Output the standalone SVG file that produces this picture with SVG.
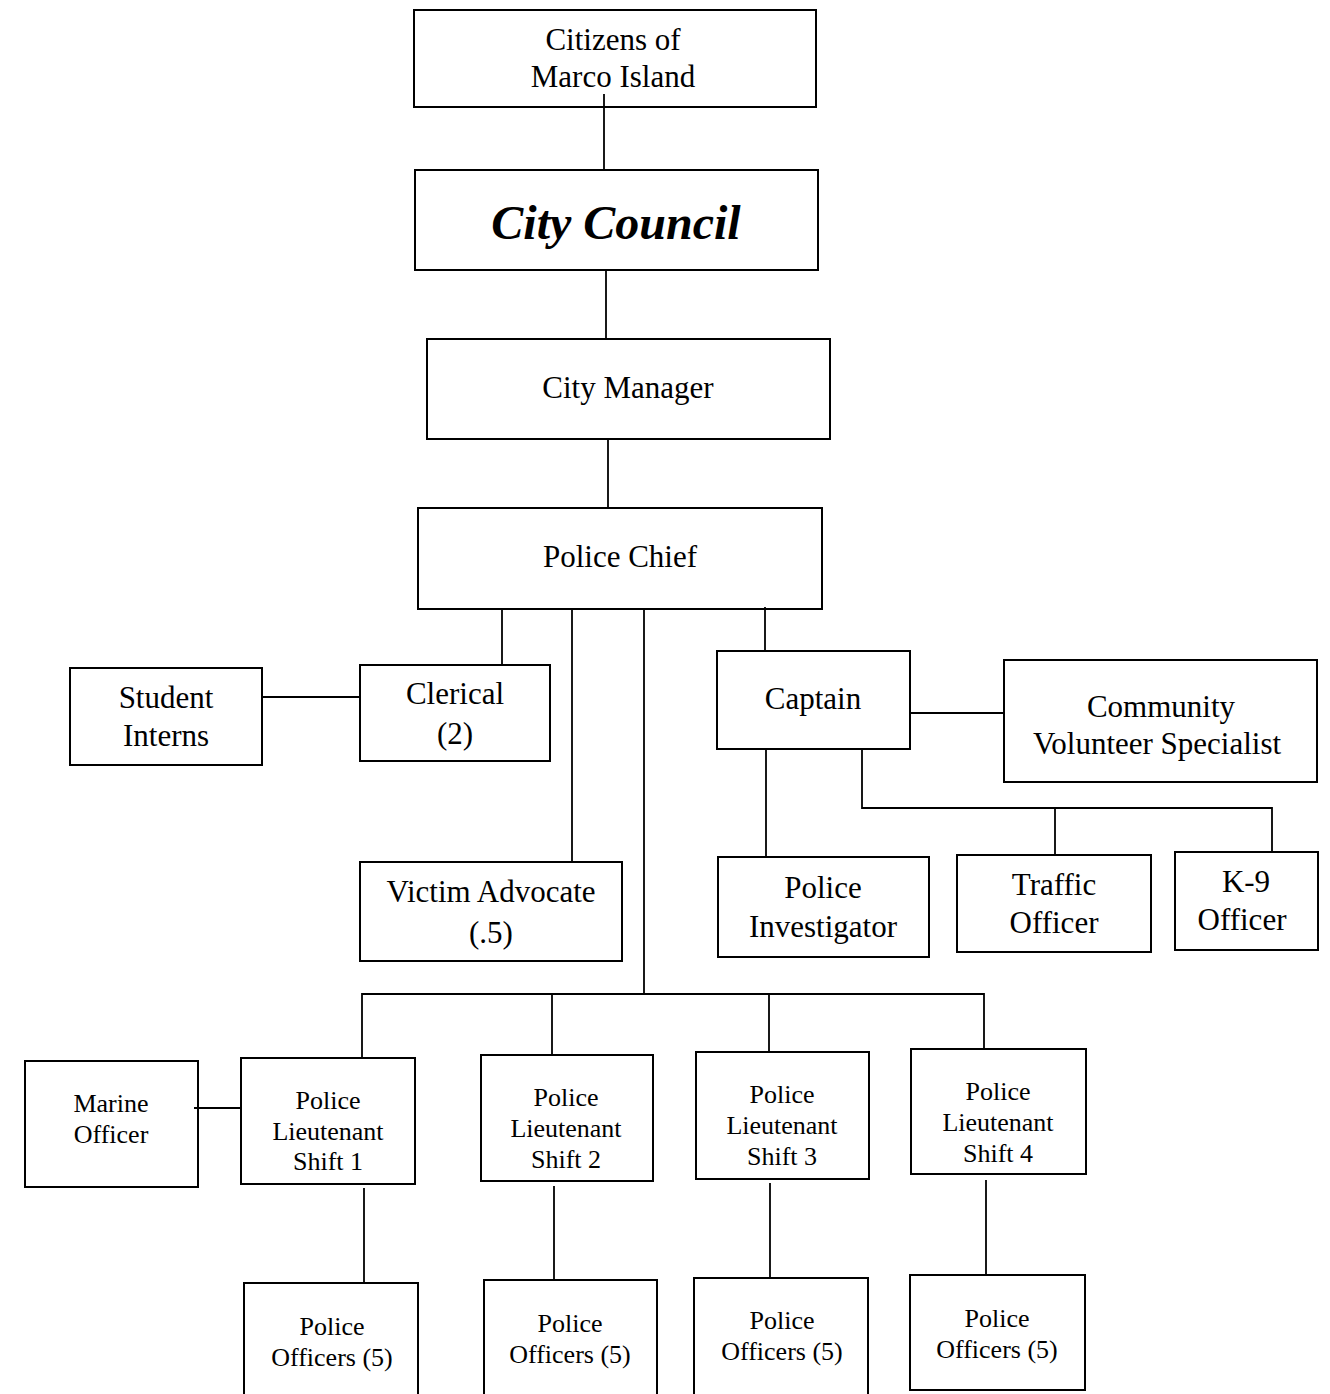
<svg xmlns="http://www.w3.org/2000/svg" width="1330" height="1394" viewBox="0 0 1330 1394">
<style>
.box{fill:#fff;stroke:#000;stroke-width:2}
.t{font-family:"Liberation Serif","Times New Roman",serif;font-size:31px;text-anchor:middle;fill:#000}
.s{font-family:"Liberation Serif","Times New Roman",serif;font-size:26px;text-anchor:middle;fill:#000}
.cc{font-family:"Liberation Serif","Times New Roman",serif;font-size:48px;font-weight:bold;font-style:italic;text-anchor:middle;fill:#000}
.c{fill:none;stroke:#000;stroke-width:1.8}
</style>
<rect width="1330" height="1394" fill="#fff"/>
<g id="citizens"><rect class="box" x="414" y="10" width="402" height="97"/><text class="t" x="613" y="50">Citizens of</text><text class="t" x="613" y="87">Marco Island</text></g>
<g id="council"><rect class="box" x="415" y="170" width="403" height="100"/><text class="cc" x="616" y="239">City Council</text></g>
<g id="manager"><rect class="box" x="427" y="339" width="403" height="100"/><text class="t" x="628" y="398">City Manager</text></g>
<g id="chief"><rect class="box" x="418" y="508" width="404" height="101"/><text class="t" x="620" y="567">Police Chief</text></g>
<g id="interns"><rect class="box" x="70" y="668" width="192" height="97"/><text class="t" x="166" y="708">Student</text><text class="t" x="166" y="746">Interns</text></g>
<g id="clerical"><rect class="box" x="360" y="665" width="190" height="96"/><text class="t" x="455" y="704">Clerical</text><text class="t" x="455" y="744">(2)</text></g>
<g id="victim"><rect class="box" x="360" y="862" width="262" height="99"/><text class="t" x="491" y="902">Victim Advocate</text><text class="t" x="491" y="943">(.5)</text></g>
<g id="captain"><rect class="box" x="717" y="651" width="193" height="98"/><text class="t" x="813" y="709">Captain</text></g>
<g id="cvs"><rect class="box" x="1004" y="660" width="313" height="122"/><text class="t" x="1161" y="717">Community</text><text class="t" x="1157" y="754">Volunteer Specialist</text></g>
<g id="investigator"><rect class="box" x="718" y="857" width="211" height="100"/><text class="t" x="823" y="898">Police</text><text class="t" x="823" y="937">Investigator</text></g>
<g id="traffic"><rect class="box" x="957" y="855" width="194" height="97"/><text class="t" x="1054" y="895">Traffic</text><text class="t" x="1054" y="933">Officer</text></g>
<g id="k9"><rect class="box" x="1175" y="852" width="143" height="98"/><text class="t" x="1246" y="892">K-9</text><text class="t" x="1242" y="930">Officer</text></g>
<g id="marine"><rect class="box" x="25" y="1061" width="173" height="126"/><text class="s" x="111" y="1112">Marine</text><text class="s" x="111" y="1143">Officer</text></g>
<g id="lt1"><rect class="box" x="241" y="1058" width="174" height="126"/><text class="s" x="328" y="1109">Police</text><text class="s" x="328" y="1140">Lieutenant</text><text class="s" x="328" y="1170">Shift 1</text></g>
<g id="lt2"><rect class="box" x="481" y="1055" width="172" height="126"/><text class="s" x="566" y="1106">Police</text><text class="s" x="566" y="1137">Lieutenant</text><text class="s" x="566" y="1168">Shift 2</text></g>
<g id="lt3"><rect class="box" x="696" y="1052" width="173" height="127"/><text class="s" x="782" y="1103">Police</text><text class="s" x="782" y="1134">Lieutenant</text><text class="s" x="782" y="1165">Shift 3</text></g>
<g id="lt4"><rect class="box" x="911" y="1049" width="175" height="125"/><text class="s" x="998" y="1100">Police</text><text class="s" x="998" y="1131">Lieutenant</text><text class="s" x="998" y="1162">Shift 4</text></g>
<g id="po1"><rect class="box" x="244" y="1283" width="174" height="120"/><text class="s" x="332" y="1335">Police</text><text class="s" x="332" y="1366">Officers (5)</text></g>
<g id="po2"><rect class="box" x="484" y="1280" width="173" height="122"/><text class="s" x="570" y="1332">Police</text><text class="s" x="570" y="1363">Officers (5)</text></g>
<g id="po3"><rect class="box" x="694" y="1278" width="174" height="122"/><text class="s" x="782" y="1329">Police</text><text class="s" x="782" y="1360">Officers (5)</text></g>
<g id="po4"><rect class="box" x="910" y="1275" width="175" height="115"/><text class="s" x="997" y="1327">Police</text><text class="s" x="997" y="1358">Officers (5)</text></g>
<g id="connectors">
<path class="c" d="M604 94V170"/>
<path class="c" d="M606 270V339"/>
<path class="c" d="M608 439V508"/>
<path class="c" d="M502 609V665"/>
<path class="c" d="M572 609V862"/>
<path class="c" d="M644 609V993"/>
<path class="c" d="M765 607V651"/>
<path class="c" d="M262 697H360"/>
<path class="c" d="M910 713H1004"/>
<path class="c" d="M766 749V857"/>
<path class="c" d="M862 749V808H1272V852"/>
<path class="c" d="M1055 808V855"/>
<path class="c" d="M362 1058V994H984V1049"/>
<path class="c" d="M552 994V1055"/>
<path class="c" d="M769 994V1052"/>
<path class="c" d="M194 1108H241"/>
<path class="c" d="M364 1188V1283"/>
<path class="c" d="M554 1186V1280"/>
<path class="c" d="M770 1183V1278"/>
<path class="c" d="M986 1180V1275"/>
</g>
</svg>
